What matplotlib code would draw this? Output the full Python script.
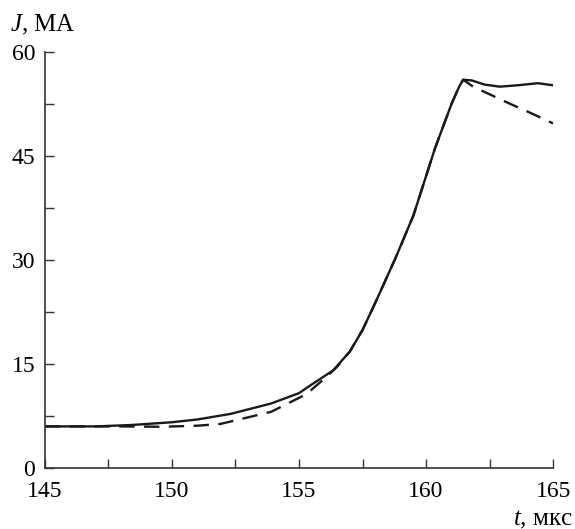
import matplotlib
matplotlib.use("Agg")
import matplotlib.pyplot as plt
from matplotlib.ticker import MultipleLocator

plt.rcParams['font.family'] = ['Liberation Serif', 'DejaVu Serif']
plt.rcParams['mathtext.fontset'] = 'custom'
plt.rcParams['mathtext.it'] = 'Liberation Serif:italic'
plt.rcParams['mathtext.rm'] = 'Liberation Serif'

# solid curve
t_solid = [145, 147, 148.4, 150, 151, 152.3, 153.9, 155, 155.4, 156.35, 157, 157.5,
           158.06, 158.8, 159.5, 160.35, 161, 161.3, 161.46, 161.8, 162.3, 162.9,
           163.6, 164.4, 165]
J_solid = [6.0, 6.0, 6.2, 6.6, 7.0, 7.8, 9.3, 10.8, 11.8, 14.1, 16.8, 19.9,
           24.3, 30.3, 36.4, 46.1, 52.5, 55.0, 56.0, 55.9, 55.3, 55.0,
           55.2, 55.5, 55.2]

# dashed curve
t_dash = [145, 148, 149.6, 151, 151.9, 152.3, 153.9, 155.1, 155.4, 156.1, 156.5,
          157, 157.5, 158.06, 158.8, 159.5, 160.35, 161, 161.3, 161.46, 161.85,
          162.5, 163.2, 164, 165]
J_dash = [6.0, 6.0, 5.95, 6.1, 6.35, 6.7, 8.1, 10.3, 11.0, 13.2, 14.6,
          16.8, 19.9, 24.3, 30.3, 36.4, 46.1, 52.5, 55.0, 56.0, 55.0,
          53.9, 52.7, 51.4, 49.7]

x_ticks = [145, 150, 155, 160, 165]
y_ticks = [0, 15, 30, 45, 60]

fig = plt.figure(figsize=(5.75, 5.29), dpi=100)
ax = fig.add_axes([0.078, 0.1153, 0.884, 0.7864])

ax.plot(t_solid, J_solid, color='#1a1a1a', lw=1.7)
ax.plot(t_dash, J_dash, color='#1a1a1a', lw=1.7, linestyle=(0, (6.5, 4)))

ax.set_xlim(145, 165)
ax.set_ylim(0, 60)
ax.set_xticks(x_ticks)
ax.set_yticks(y_ticks)
ax.xaxis.set_minor_locator(MultipleLocator(2.5))
ax.yaxis.set_minor_locator(MultipleLocator(7.5))
ax.tick_params(which='both', direction='in', length=6.5, width=1.0, color='#333333',
               labelsize=17)
ax.tick_params(axis='x', pad=9)
ax.tick_params(axis='y', pad=7)

for s in ['top', 'right']:
    ax.spines[s].set_visible(False)
for s in ['left', 'bottom']:
    ax.spines[s].set_linewidth(1.2)
    ax.spines[s].set_color('#333333')

fig.text(10 / 575, 1 - 31 / 529, '$J$, МА', fontsize=18, ha='left', va='baseline')
fig.text(573 / 575, 1 - 525 / 529, '$t$, мкс', fontsize=18, ha='right', va='baseline')

fig.savefig('out.png', dpi=100)
